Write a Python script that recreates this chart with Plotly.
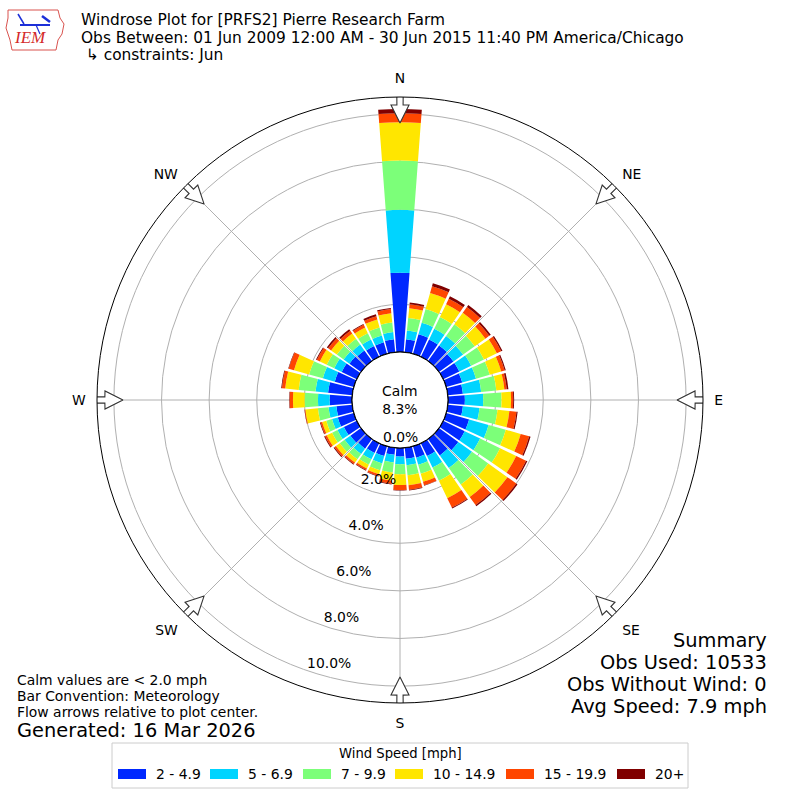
import plotly.graph_objects as go

# ---------------- data ----------------
directions = list(range(0, 360, 10))
bin_labels = ["2 - 4.9", "5 - 6.9", "7 - 9.9", "10 - 14.9", "15 - 19.9", "20+"]
bin_colors = ["#0028ff", "#00d4ff", "#7cff79", "#ffe600", "#ff4600", "#800000"]

# percent of observations per direction (10 deg bins), per speed bin
spd_2_49 = [3.33, 0.55, 0.85, 0.80, 0.80, 0.75, 0.75, 0.70, 0.64, 0.71, 0.64, 1.00,
            1.00, 1.00, 0.85, 0.60, 0.50, 0.46, 0.36, 0.30, 0.43, 0.45, 0.50, 0.55,
            0.60, 0.70, 0.67, 0.94, 1.02, 0.83, 0.70, 0.60, 0.55, 0.50, 0.50, 0.55]
spd_5_69 = [2.64, 0.37, 0.50, 0.50, 0.50, 0.50, 0.55, 0.60, 0.77, 0.77, 0.70, 0.85,
            0.72, 0.71, 0.65, 0.53, 0.31, 0.28, 0.32, 0.32, 0.32, 0.30, 0.28, 0.30,
            0.30, 0.25, 0.33, 0.49, 0.53, 0.52, 0.35, 0.30, 0.30, 0.30, 0.30, 0.30]
spd_7_99 = [2.07, 0.53, 0.60, 0.55, 0.60, 0.60, 0.60, 0.60, 0.64, 0.77, 0.76, 0.75,
            0.93, 0.84, 0.86, 0.62, 0.39, 0.42, 0.42, 0.42, 0.30, 0.25, 0.27, 0.25,
            0.25, 0.25, 0.45, 0.56, 0.71, 0.60, 0.35, 0.35, 0.30, 0.30, 0.35, 0.40]
spd_10_149 = [1.61, 0.41, 0.70, 0.60, 0.60, 0.55, 0.60, 0.50, 0.34, 0.40, 0.50, 0.65,
              0.75, 0.99, 0.64, 0.81, 0.35, 0.42, 0.45, 0.35, 0.17, 0.18, 0.17, 0.20,
              0.25, 0.18, 0.53, 0.49, 0.57, 0.66, 0.32, 0.30, 0.27, 0.26, 0.35, 0.40]
spd_15_199 = [0.38, 0.17, 0.30, 0.25, 0.30, 0.20, 0.20, 0.15, 0.10, 0.09, 0.30, 0.37,
              0.46, 0.46, 0.42, 0.44, 0.15, 0.19, 0.21, 0.13, 0.08, 0.07, 0.08, 0.08,
              0.08, 0.07, 0.03, 0.14, 0.14, 0.23, 0.14, 0.15, 0.14, 0.13, 0.14, 0.17]
spd_20p = [0.18, 0.07, 0.13, 0.12, 0.10, 0.08, 0.06, 0.05, 0.07, 0.04, 0.05, 0.06,
           0.06, 0.06, 0.06, 0.04, 0.02, 0.03, 0.03, 0.03, 0.02, 0.03, 0.03, 0.04,
           0.04, 0.03, 0.01, 0.02, 0.03, 0.02, 0.04, 0.07, 0.08, 0.04, 0.08, 0.05]
speed_bins = [spd_2_49, spd_5_69, spd_7_99, spd_10_149, spd_15_199, spd_20p]

calm_pct = 8.3
radial_ticks = [0, 2, 4, 6, 8, 10]
compass_angles = [0, 45, 90, 135, 180, 225, 270, 315]
compass_labels = ["N", "NE", "E", "SE", "S", "SW", "W", "NW"]

title_lines = [
    "Windrose Plot for [PRFS2] Pierre Research Farm",
    "Obs Between: 01 Jun 2009 12:00 AM - 30 Jun 2015 11:40 PM America/Chicago",
    " \u21b3 constraints: Jun",
]
notes_left = ["Calm values are < 2.0 mph", "Bar Convention: Meteorology",
              "Flow arrows relative to plot center."]
generated = "Generated: 16 Mar 2026"
summary_lines = ["Summary", "Obs Used: 10533", "Obs Without Wind: 0", "Avg Speed: 7.9 mph"]
legend_title = "Wind Speed [mph]"

# ---------------- figure ----------------
W = H = 800
FONT = "DejaVu Sans"
R_MAX = 10.71
GRID = "#b0b0b0"


def px(x, y):
    return x / W, 1 - y / H


fig = go.Figure()

for vals, lab, col in zip(speed_bins, bin_labels, bin_colors):
    fig.add_trace(go.Barpolar(
        r=vals, theta=directions, width=8.6, name=lab,
        marker=dict(color=col, line=dict(width=0)),
        hoverinfo="skip", showlegend=False,
    ))

# inner (calm) circle outline
circ_theta = list(range(0, 361, 2))
fig.add_trace(go.Scatterpolar(
    r=[0] * len(circ_theta), theta=circ_theta, mode="lines",
    line=dict(color="black", width=1.2), showlegend=False,
    hoverinfo="skip", cliponaxis=False,
))

# flow arrows (hollow block arrows) at compass points
arrow_r = [10.9, 10.38, 10.38, 9.62, 10.38, 10.38, 10.9, 10.9]
arrow_dt = [-0.6, -0.6, -1.75, 0.0, 1.75, 0.6, 0.6, -0.6]
for a in compass_angles:
    fig.add_trace(go.Scatterpolar(
        r=arrow_r, theta=[a + d for d in arrow_dt], mode="lines",
        fill="toself", fillcolor="white",
        line=dict(color="#333333", width=1.1),
        showlegend=False, hoverinfo="skip", cliponaxis=False,
    ))

# radial tick labels (non-zero ones along the 195 deg bearing)
fig.add_trace(go.Scatterpolar(
    r=[t - 0.52 for t in radial_ticks[1:]], theta=[195] * (len(radial_ticks) - 1),
    mode="text", text=["%.1f%%" % t for t in radial_ticks[1:]],
    textfont=dict(family=FONT, size=13.9, color="black"),
    showlegend=False, hoverinfo="skip", cliponaxis=False,
))

dom = [(400 - 303) / W, (400 + 303) / W]
fig.update_layout(
    width=W, height=H,
    margin=dict(l=0, r=0, t=0, b=0),
    paper_bgcolor="white",
    font=dict(family=FONT, color="black"),
    showlegend=False,
    polar=dict(
        domain=dict(x=dom, y=dom),
        hole=48 / 303,
        bgcolor="white",
        barmode="stack",
        bargap=0,
        radialaxis=dict(
            range=[0, R_MAX], tickvals=radial_ticks, showticklabels=False,
            ticks="", showline=False, gridcolor=GRID, gridwidth=1,
            layer="above traces",
        ),
        angularaxis=dict(
            rotation=90, direction="clockwise",
            tickvals=compass_angles, ticktext=compass_labels,
            tickfont=dict(family=FONT, size=13.9, color="black"),
            ticks="outside", ticklen=8, tickcolor="rgba(0,0,0,0)",
            showline=True, linecolor="black", linewidth=1,
            showgrid=True, gridcolor=GRID, gridwidth=1,
            layer="above traces",
        ),
    ),
)

annotations = []


def ann(x, y, text, size, xanchor="left", yanchor="middle", color="black", family=FONT):
    ax, ay = px(x, y)
    annotations.append(dict(x=ax, y=ay, xref="paper", yref="paper", text=text,
                            showarrow=False, xanchor=xanchor, yanchor=yanchor,
                            borderpad=0,
                            font=dict(family=family, size=size, color=color)))


# title block
for i, line in enumerate(title_lines):
    ann(80, 19.5 + i * 18, line, 15.4)
# calm text
ann(400, 400, "Calm<br>%.1f%%" % calm_pct, 13.9, xanchor="center")
# zero radial label
ann(400, 437, "%.1f%%" % radial_ticks[0], 13.9, xanchor="center")
# left notes
for i, line in enumerate(notes_left):
    ann(16, 680 + i * 16, line, 13.9)
ann(16, 730, generated, 19.4)
# summary
for i, line in enumerate(summary_lines):
    ann(768, 640 + i * 22, line, 19.4, xanchor="right")
# IEM logo text
ann(30, 38, "<i>IEM</i>", 17, xanchor="center", color="#d42a2a", family="Liberation Serif")

# custom legend
shapes = []
lx0, lx1, ly0, ly1 = 112, 688, 743, 788
shapes.append(dict(type="rect", xref="paper", yref="paper",
                   x0=px(lx0, ly0)[0], y0=px(lx0, ly0)[1], x1=px(lx1, ly1)[0], y1=px(lx1, ly1)[1],
                   line=dict(color="#cccccc", width=1), fillcolor="white", layer="below"))
ann(400, 753, legend_title, 13.2, xanchor="center")
sw_left = [118, 210, 303, 395, 506, 617]
for xs, lab, col in zip(sw_left, bin_labels, bin_colors):
    x0, y0 = px(xs, 769)
    x1, y1 = px(xs + 28, 779)
    shapes.append(dict(type="rect", xref="paper", yref="paper", x0=x0, y0=y0, x1=x1, y1=y1,
                       line=dict(width=0), fillcolor=col))
    ann(xs + 37, 774, lab, 13.9)

fig.update_layout(annotations=annotations)


# simple logo outline
def path(points):
    return "M " + " L ".join("%.4f,%.4f" % px(a, b) for a, b in points) + " Z"


logo_outline = [(8, 10), (58, 10), (60, 18), (64, 24), (62, 34), (58, 40),
                (56, 50), (12, 50), (10, 40), (6, 28), (8, 18)]
shapes.append(dict(type="path", path=path(logo_outline), xref="paper", yref="paper",
                   line=dict(color="#d9534f", width=1), fillcolor="rgba(0,0,0,0)"))
for (a, b, c, d, w) in [(20, 25, 50, 25, 2), (18, 14, 24, 24, 1.5), (42, 16, 50, 22, 2.5),
                        (36, 25, 40, 34, 1.2)]:
    shapes.append(dict(type="line", xref="paper", yref="paper",
                       x0=px(a, b)[0], y0=px(a, b)[1], x1=px(c, d)[0], y1=px(c, d)[1],
                       line=dict(color="#1c2fd8", width=w)))
fig.update_layout(shapes=shapes)

fig.write_html("out.html", config={"displayModeBar": False},
               post_script="document.body.style.margin='0px';")
